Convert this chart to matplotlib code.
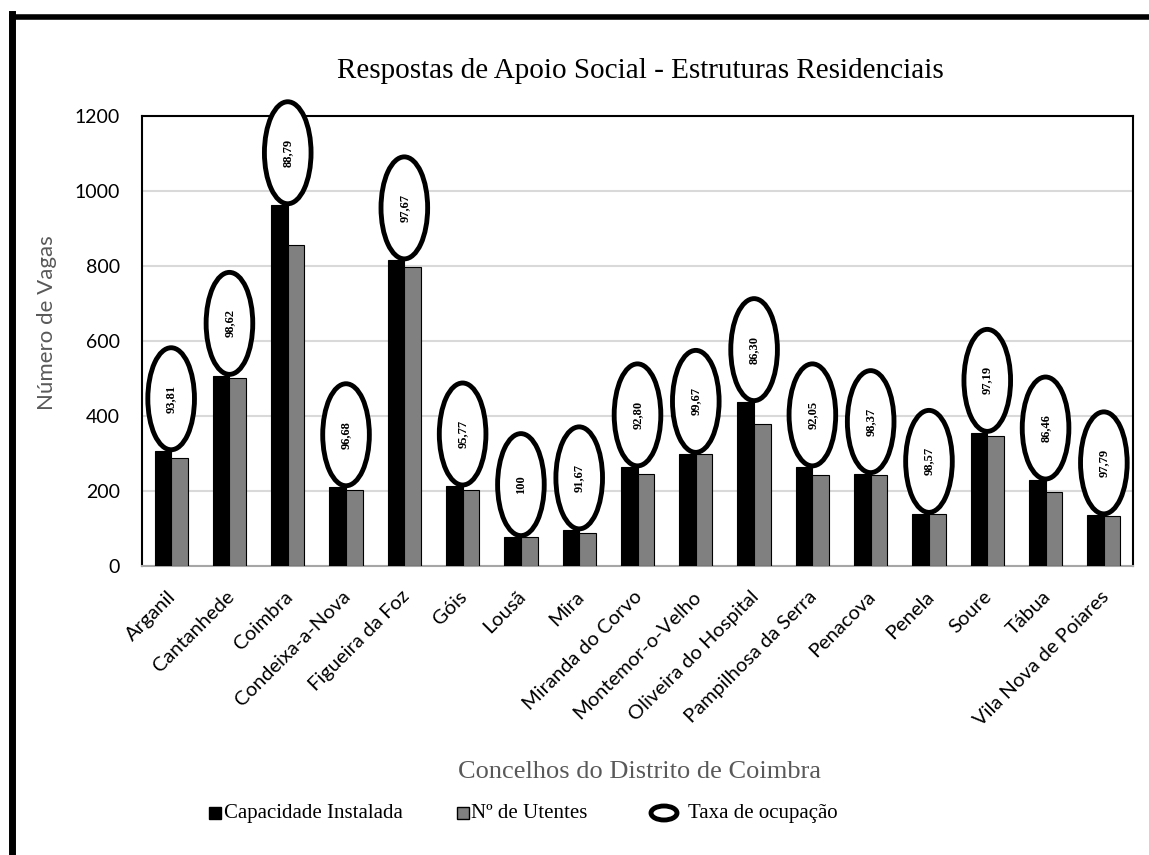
import numpy as np
import matplotlib
matplotlib.use("Agg")
import matplotlib.pyplot as plt
from matplotlib.patches import Ellipse, Rectangle
from matplotlib.lines import Line2D
from matplotlib.transforms import ScaledTranslation

# dados
concelhos = ['Arganil', 'Cantanhede', 'Coimbra', 'Condeixa-a-Nova', 'Figueira da Foz',
             'Góis', 'Lousã', 'Mira', 'Miranda do Corvo', 'Montemor-o-Velho',
             'Oliveira do Hospital', 'Pampilhosa da Serra', 'Penacova', 'Penela',
             'Soure', 'Tábua', 'Vila Nova de Poiares']
capacidade = [307, 508, 963, 211, 816, 213, 78, 96, 264, 300, 438, 264, 246, 140, 356, 229, 136]
utentes = [288, 501, 855, 204, 797, 204, 78, 88, 245, 299, 378, 243, 242, 138, 346, 198, 133]
taxa = ['93,81', '98,62', '88,79', '96,68', '97,67', '95,77', '100', '91,67', '92,80',
        '99,67', '86,30', '92,05', '98,37', '98,57', '97,19', '86,46', '97,79']

W, H = 1149, 855
fig = plt.figure(figsize=(W / 100, H / 100), dpi=100)
ax = fig.add_axes([142 / W, 1 - 566 / H, (1133 - 142) / W, (566 - 116) / H])

x = np.arange(len(concelhos))
bw = 0.285
ax.bar(x - bw / 2, capacidade, bw, color='black', edgecolor='black', linewidth=0.8, zorder=3)
ax.bar(x + bw / 2, utentes, bw, color='#808080', edgecolor='black', linewidth=0.8, zorder=3)

ax.set_xlim(-0.5, len(concelhos) - 0.5)
ax.set_ylim(0, 1200)
ax.set_yticks(range(0, 1201, 200))
ax.grid(axis='y', color='#d9d9d9', linewidth=1.5, zorder=0)
ax.set_axisbelow(True)

# elipses da taxa de ocupacao
eh = 272
for i, (c, t) in enumerate(zip(capacidade, taxa)):
    cy = c + 3 + eh / 2
    ax.add_patch(Ellipse((i, cy), 0.80, eh, facecolor='white', edgecolor='black',
                         linewidth=3.5, zorder=4, clip_on=False))
    ax.text(i, cy, t, rotation=90, ha='center', va='center', fontsize=9,
            fontweight='bold', family='Liberation Serif', zorder=5)

ax.set_xticks(x)
ax.set_xticklabels(concelhos, rotation=45, ha='right', va='center', rotation_mode='anchor',
                   family='Lato', fontsize=14.5)
ax.tick_params(axis='x', length=0, pad=20)
off = ScaledTranslation(2 / 100, 0, fig.dpi_scale_trans)
for lab in ax.get_xticklabels():
    lab.set_transform(lab.get_transform() + off)
ax.tick_params(axis='y', length=0, pad=16, labelsize=14)
for lab in ax.get_yticklabels():
    lab.set_family('Lato')

for s in ['top', 'right', 'left']:
    ax.spines[s].set_color('black')
    ax.spines[s].set_linewidth(1.5)
ax.spines['bottom'].set_color('#a6a6a6')
ax.spines['bottom'].set_linewidth(1.5)

fig.text(640 / W, 1 - 71 / H, 'Respostas de Apoio Social - Estruturas Residenciais',
         ha='center', va='center', fontsize=21, family='Liberation Serif')
fig.text(47 / W, 1 - 323 / H, 'Número de Vagas', rotation=90, ha='center', va='center',
         fontsize=16, family='Lato', color='#595959')
fig.text(639 / W, 1 - 772 / H, 'Concelhos do Distrito de Coimbra', ha='center', va='center',
         fontsize=19, family='Liberation Serif', color='#595959')

# legenda
ly = 1 - 813 / H
fig.add_artist(Rectangle((209 / W, ly - 6 / H), 12 / W, 12 / H, transform=fig.transFigure,
                         facecolor='black', edgecolor='black'))
fig.text(224 / W, ly, 'Capacidade Instalada', ha='left', va='center', fontsize=15,
         family='Liberation Serif')
fig.add_artist(Rectangle((457 / W, ly - 6 / H), 12 / W, 12 / H, transform=fig.transFigure,
                         facecolor='#808080', edgecolor='black', linewidth=1))
fig.text(471 / W, ly, 'Nº de Utentes', ha='left', va='center', fontsize=15,
         family='Liberation Serif')
fig.add_artist(Ellipse((664 / W, ly), 26 / W, 14 / H, transform=fig.transFigure,
                       facecolor='white', edgecolor='black', linewidth=3.5))
fig.text(688 / W, ly, 'Taxa de ocupação', ha='left', va='center', fontsize=15,
         family='Liberation Serif')

# moldura exterior
fig.add_artist(Line2D([12 / W, 12 / W], [0, 1 - 14 / H], transform=fig.transFigure,
                      color='black', linewidth=5, solid_capstyle='projecting'))
fig.add_artist(Line2D([12 / W, 1], [1 - 17 / H, 1 - 17 / H], transform=fig.transFigure,
                      color='black', linewidth=4, solid_capstyle='projecting'))

fig.savefig('out.png', dpi=100)
